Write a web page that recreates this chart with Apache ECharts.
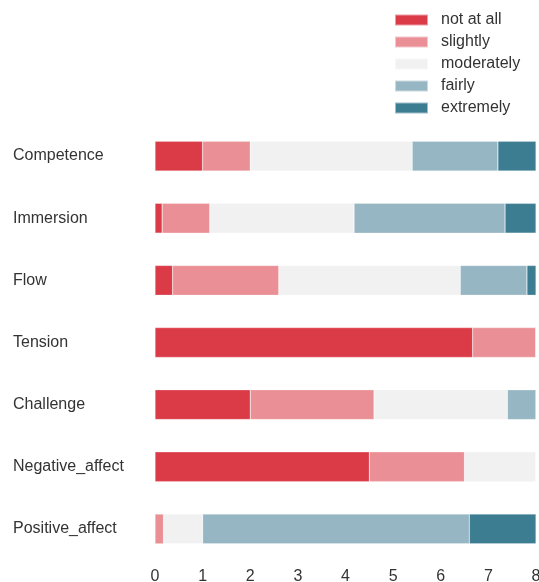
<!DOCTYPE html>
<html>
<head>
<meta charset="utf-8">
<script src="https://cdn.jsdelivr.net/npm/echarts@6/dist/echarts.min.js"></script>
<style>html,body{margin:0;padding:0;background:#fff;}#c{width:539px;height:582px;}</style>
</head>
<body>
<div id="c"></div>
<script>
const categories = ['Competence', 'Immersion', 'Flow', 'Tension', 'Challenge', 'Negative_affect', 'Positive_affect'];
const seriesNames = ['not at all', 'slightly', 'moderately', 'fairly', 'extremely'];
const notAtAll   = [1.0, 0.15, 0.37, 6.67, 2.0, 4.5, 0];
const slightly   = [1.0, 1.0, 2.23, 1.33, 2.6, 2.0, 0.18];
const moderately = [3.4, 3.03, 3.81, 0, 2.8, 1.5, 0.82];
const fairly     = [1.8, 3.17, 1.4, 0, 0.6, 0, 5.6];
const extremely  = [0.8, 0.65, 0.19, 0, 0, 0, 1.4];
const xTicks = [0, 8, 1];
const colors = ['#db3a47', '#ea8f95', '#f1f1f1', '#95b6c2', '#3d7d92'];
const values = [notAtAll, slightly, moderately, fairly, extremely];

const chart = echarts.init(document.getElementById('c'));
chart.setOption({
  animation: false,
  textStyle: { fontFamily: 'Liberation Sans, Arial, sans-serif' },
  legend: {
    left: 389, top: 7, orient: 'vertical', itemWidth: 33, itemHeight: 11, itemGap: 6,
    textStyle: { fontSize: 16, color: '#333', padding: [0, 0, 0, 8] },
    data: seriesNames.map((n, i) => ({ name: n, icon: 'rect' }))
  },
  grid: { left: 155, right: 3, top: 125, bottom: 22, outerBoundsMode: 'none', containLabel: false },
  xAxis: {
    type: 'value', min: xTicks[0], max: xTicks[1], interval: xTicks[2],
    axisLine: { show: false }, axisTick: { show: false }, splitLine: { show: false },
    axisLabel: { fontSize: 16, color: '#333', margin: 9 }
  },
  yAxis: {
    type: 'category', data: categories, inverse: true,
    axisLine: { show: false }, axisTick: { show: false }, splitLine: { show: false },
    axisLabel: { fontSize: 16, color: '#333', align: 'left', margin: 142 }
  },
  series: seriesNames.map((n, i) => ({
    name: n, type: 'bar', stack: 'total', barWidth: '48%',
    itemStyle: { color: colors[i], borderColor: 'rgba(255,255,255,0.5)', borderWidth: 0.5 },
    data: values[i]
  }))
});
</script>
</body>
</html>
